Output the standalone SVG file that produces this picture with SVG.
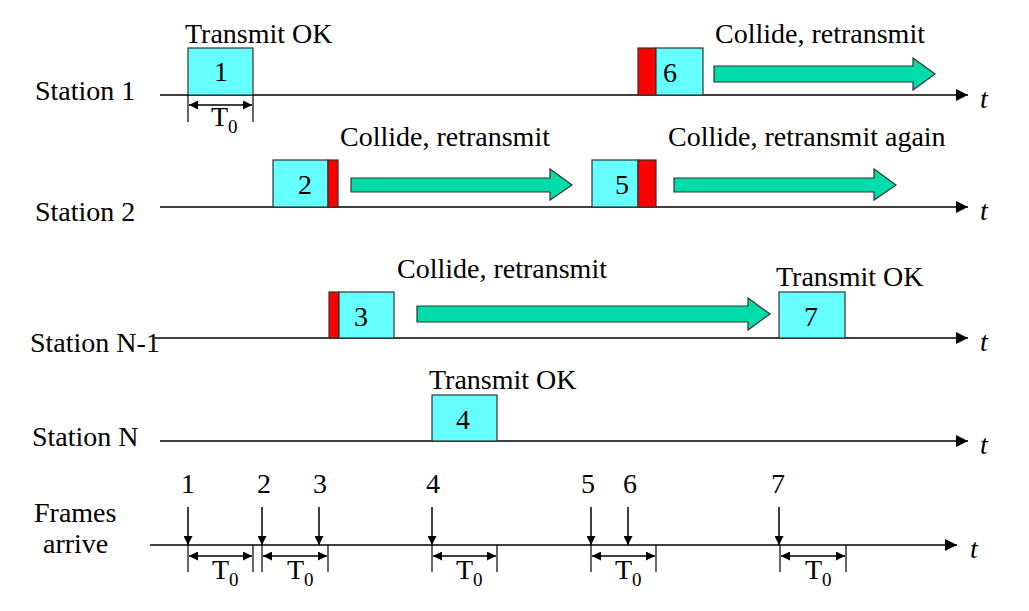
<svg xmlns="http://www.w3.org/2000/svg" width="1029" height="611" viewBox="0 0 1029 611">
<defs>
<marker id="ah" viewBox="0 0 10 10" refX="10" refY="5" markerWidth="12" markerHeight="12" markerUnits="userSpaceOnUse" orient="auto"><path d="M0,0 L10,5 L0,10 z" fill="#000"/></marker>
<marker id="ahs" viewBox="0 0 10 10" refX="10" refY="5" markerWidth="9" markerHeight="9" markerUnits="userSpaceOnUse" orient="auto-start-reverse"><path d="M0,0 L10,5 L0,10 z" fill="#000"/></marker>
</defs>
<style>
text{font-family:"Liberation Serif","Times New Roman",serif;font-size:28px;fill:#000}
.t{font-style:italic}
.sub{font-size:19px}
.axis{stroke:#000;stroke-width:1.5;fill:none}
.frame{fill:#66FFFF;stroke:#333;stroke-width:1.2}
.col{fill:#FF0000;stroke:#333;stroke-width:1.2}
.ga{fill:#00DDAA;stroke:#333;stroke-width:1.2}
.tick{stroke:#000;stroke-width:1.2}
.dim{stroke:#000;stroke-width:1.5;marker-start:url(#ahs);marker-end:url(#ahs)}
.arr{stroke:#000;stroke-width:1.5;marker-end:url(#ahs)}
</style>
<rect width="1029" height="611" fill="#fff"/>

<g id="connectors">
<line class="axis" x1="160" y1="95" x2="968" y2="95" marker-end="url(#ah)"/>
<line class="axis" x1="160" y1="207" x2="968" y2="207" marker-end="url(#ah)"/>
<line class="axis" x1="155" y1="338" x2="968" y2="338" marker-end="url(#ah)"/>
<line class="axis" x1="160" y1="441" x2="968" y2="441" marker-end="url(#ah)"/>
<line class="axis" x1="150" y1="545" x2="957" y2="545" marker-end="url(#ah)"/>
</g>

<g id="labels">
<text x="35" y="100">Station 1</text>
<text x="35" y="221">Station 2</text>
<text x="30" y="352">Station N-1</text>
<text x="32" y="446">Station N</text>
<text x="34" y="522">Frames</text>
<text x="43" y="553">arrive</text>
<text class="t" x="980" y="108">t</text>
<text class="t" x="980" y="220">t</text>
<text class="t" x="980" y="351">t</text>
<text class="t" x="980" y="454">t</text>
<text class="t" x="970" y="558">t</text>
</g>

<g id="station1">
<text x="185" y="43">Transmit OK</text>
<rect class="frame" x="188" y="48" width="65" height="47"/>
<text x="221" y="81" text-anchor="middle">1</text>
<line class="tick" x1="188" y1="95" x2="188" y2="122"/>
<line class="tick" x1="253" y1="95" x2="253" y2="122"/>
<line class="dim" x1="189" y1="105" x2="252" y2="105"/>
<text x="211" y="126">T<tspan class="sub" dy="7">0</tspan></text>
<text x="715" y="43">Collide, retransmit</text>
<rect class="col" x="638" y="48" width="18" height="47"/>
<rect class="frame" x="656" y="48" width="47" height="47"/>
<text x="670" y="82" text-anchor="middle">6</text>
<path class="ga" d="M714,66 L913,66 L913,58 L935,74 L913,90 L913,82 L714,82 z"/>
</g>

<g id="station2">
<text x="340" y="146">Collide, retransmit</text>
<rect class="frame" x="273" y="160" width="55" height="47"/>
<rect class="col" x="328" y="160" width="10" height="47"/>
<text x="305" y="194" text-anchor="middle">2</text>
<path class="ga" d="M351,178 L550,178 L550,169 L572,185 L550,200 L550,192 L351,192 z"/>
<text x="668" y="146">Collide, retransmit again</text>
<rect class="frame" x="592" y="160" width="46" height="47"/>
<rect class="col" x="638" y="160" width="18" height="47"/>
<text x="622" y="194" text-anchor="middle">5</text>
<path class="ga" d="M674,178 L874,178 L874,169 L896,185 L874,200 L874,192 L674,192 z"/>
</g>

<g id="stationN1">
<text x="397" y="278">Collide, retransmit</text>
<rect class="col" x="329" y="292" width="10" height="46"/>
<rect class="frame" x="339" y="292" width="55" height="46"/>
<text x="361" y="326" text-anchor="middle">3</text>
<path class="ga" d="M417,306 L748,306 L748,298 L770,314 L748,330 L748,322 L417,322 z"/>
<text x="776" y="286">Transmit OK</text>
<rect class="frame" x="779" y="292" width="66" height="46"/>
<text x="811" y="326" text-anchor="middle">7</text>
</g>

<g id="stationN">
<text x="429" y="389">Transmit OK</text>
<rect class="frame" x="432" y="395" width="65" height="46"/>
<text x="463" y="429" text-anchor="middle">4</text>
</g>

<g id="arrivals">
<text x="188" y="493" text-anchor="middle">1</text>
<text x="264" y="493" text-anchor="middle">2</text>
<text x="320" y="493" text-anchor="middle">3</text>
<text x="433" y="493" text-anchor="middle">4</text>
<text x="588" y="493" text-anchor="middle">5</text>
<text x="630" y="493" text-anchor="middle">6</text>
<text x="778" y="493" text-anchor="middle">7</text>
<line class="arr" x1="188" y1="507" x2="188" y2="545"/>
<line class="arr" x1="262" y1="507" x2="262" y2="545"/>
<line class="arr" x1="319" y1="507" x2="319" y2="545"/>
<line class="arr" x1="432" y1="507" x2="432" y2="545"/>
<line class="arr" x1="591" y1="507" x2="591" y2="545"/>
<line class="arr" x1="628" y1="507" x2="628" y2="545"/>
<line class="arr" x1="779" y1="507" x2="779" y2="545"/>
</g>

<g id="intervals">
<line class="tick" x1="188" y1="545" x2="188" y2="572"/><line class="tick" x1="253" y1="545" x2="253" y2="572"/>
<line class="dim" x1="189" y1="556" x2="252" y2="556"/>
<text x="212" y="579">T<tspan class="sub" dy="7">0</tspan></text>
<line class="tick" x1="262" y1="545" x2="262" y2="572"/><line class="tick" x1="328" y1="545" x2="328" y2="572"/>
<line class="dim" x1="263" y1="556" x2="327" y2="556"/>
<text x="287" y="579">T<tspan class="sub" dy="7">0</tspan></text>
<line class="tick" x1="432" y1="545" x2="432" y2="572"/><line class="tick" x1="497" y1="545" x2="497" y2="572"/>
<line class="dim" x1="433" y1="556" x2="496" y2="556"/>
<text x="456" y="579">T<tspan class="sub" dy="7">0</tspan></text>
<line class="tick" x1="591" y1="545" x2="591" y2="572"/><line class="tick" x1="656" y1="545" x2="656" y2="572"/>
<line class="dim" x1="592" y1="556" x2="655" y2="556"/>
<text x="615" y="579">T<tspan class="sub" dy="7">0</tspan></text>
<line class="tick" x1="780" y1="545" x2="780" y2="572"/><line class="tick" x1="846" y1="545" x2="846" y2="572"/>
<line class="dim" x1="781" y1="556" x2="845" y2="556"/>
<text x="805" y="579">T<tspan class="sub" dy="7">0</tspan></text>
</g>
</svg>
